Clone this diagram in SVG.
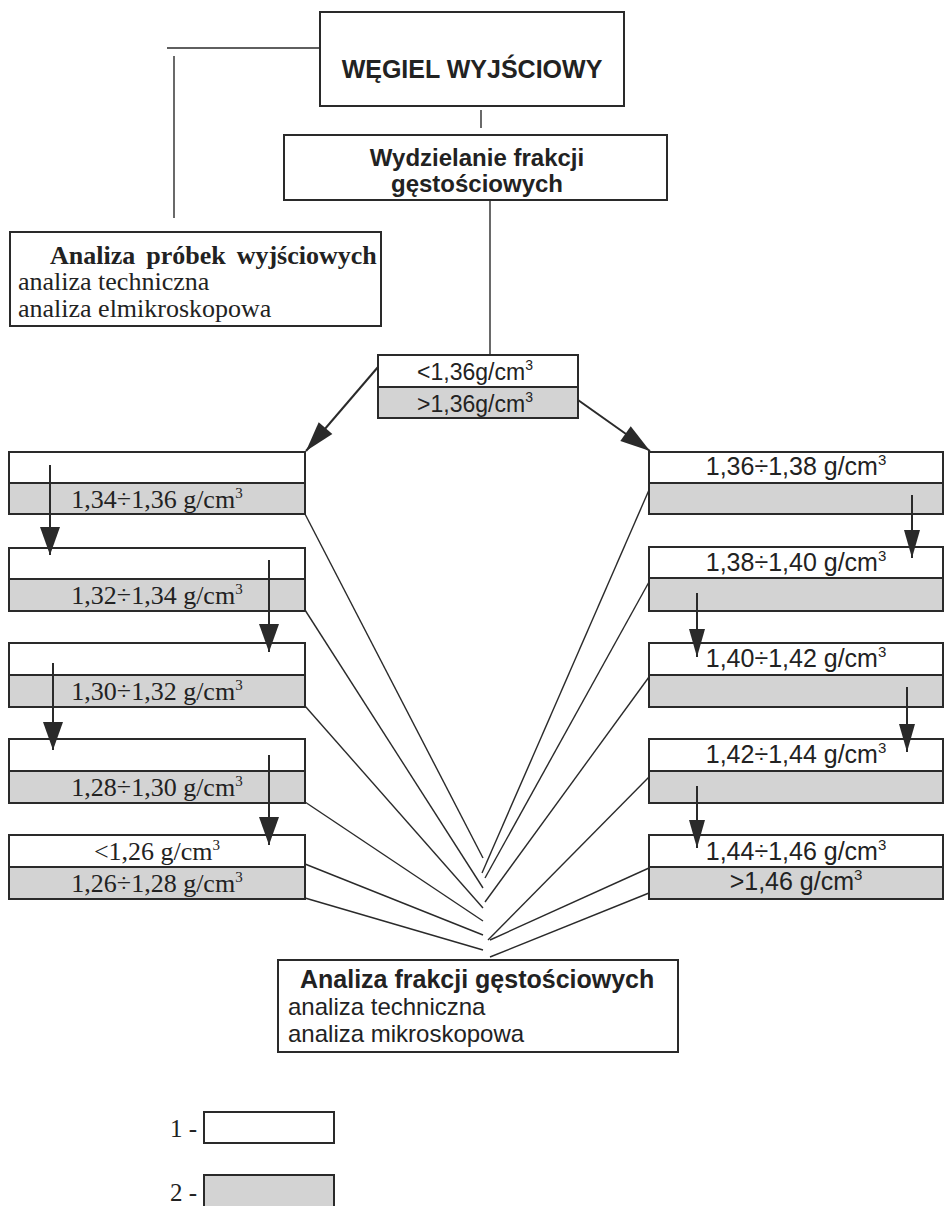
<svg xmlns="http://www.w3.org/2000/svg" width="944" height="1206" viewBox="0 0 944 1206">
<style>
.box{fill:#fff;stroke:#2a2a2a;stroke-width:2}
.sh{fill:#d3d3d3;stroke:#2a2a2a;stroke-width:2}
.ln{fill:none;stroke:#2a2a2a;stroke-width:1.4}
.ar{fill:none;stroke:#2a2a2a;stroke-width:2}
.hb{font-family:"Liberation Sans",Arial,sans-serif;font-weight:bold;fill:#222}
.h{font-family:"Liberation Sans",Arial,sans-serif;fill:#222}
.t{font-family:"Liberation Serif","Times New Roman",serif;fill:#222}
.tb{font-family:"Liberation Serif","Times New Roman",serif;font-weight:bold;fill:#222}
</style>
<defs>
<marker id="mA" markerUnits="userSpaceOnUse" markerWidth="30" markerHeight="22" refX="28" refY="10" orient="auto" overflow="visible"><path d="M0,0 L28,10 L0,20 Z" fill="#2a2a2a"/></marker>
<marker id="mB" markerUnits="userSpaceOnUse" markerWidth="30" markerHeight="18" refX="28" refY="8" orient="auto" overflow="visible"><path d="M0,0 L28,8 L0,16 Z" fill="#2a2a2a"/></marker>
<marker id="mC" markerUnits="userSpaceOnUse" markerWidth="32" markerHeight="20" refX="30" refY="9" orient="auto" overflow="visible"><path d="M0,0 L30,9 L0,18 Z" fill="#2a2a2a"/></marker>
</defs>
<rect width="944" height="1206" fill="#fff"/>

<g id="wegiel">
<rect class="box" x="320" y="12" width="304" height="94"/>
<text class="hb" x="472" y="78" font-size="25" text-anchor="middle">WĘGIEL WYJŚCIOWY</text>
</g>

<g id="wydzielanie">
<rect class="box" x="284" y="135" width="383" height="65"/>
<text class="hb" x="477" y="166" font-size="24" text-anchor="middle">Wydzielanie frakcji</text>
<text class="hb" x="477" y="192" font-size="24" text-anchor="middle">gęstościowych</text>
</g>

<g id="analiza-probek">
<rect class="box" x="10" y="232" width="371" height="94"/>
<text class="tb" x="50" y="264" font-size="26" word-spacing="4.5">Analiza próbek wyjściowych</text>
<text class="t" x="18" y="290" font-size="26">analiza techniczna</text>
<text class="t" x="18" y="317" font-size="26">analiza elmikroskopowa</text>
</g>

<g id="split-136">
<rect class="box" x="378" y="355" width="200" height="32"/>
<rect class="sh" x="378" y="387" width="200" height="31"/>
<text class="h" x="475" y="380" font-size="23" text-anchor="middle">&lt;1,36g/cm<tspan dy="-10" font-size="14">3</tspan></text>
<text class="h" x="475" y="412" font-size="23" text-anchor="middle">&gt;1,36g/cm<tspan dy="-10" font-size="14">3</tspan></text>
</g>

<g id="left-1">
<rect class="box" x="9" y="452" width="296" height="31"/>
<rect class="sh" x="9" y="483" width="296" height="31"/>
<text class="t" x="157" y="508" font-size="26" text-anchor="middle">1,34÷1,36 g/cm<tspan dy="-10" font-size="15">3</tspan></text>
</g>
<g id="left-2">
<rect class="box" x="9" y="548" width="296" height="31"/>
<rect class="sh" x="9" y="579" width="296" height="32"/>
<text class="t" x="157" y="604" font-size="26" text-anchor="middle">1,32÷1,34 g/cm<tspan dy="-10" font-size="15">3</tspan></text>
</g>
<g id="left-3">
<rect class="box" x="9" y="643" width="296" height="32"/>
<rect class="sh" x="9" y="675" width="296" height="32"/>
<text class="t" x="157" y="700" font-size="26" text-anchor="middle">1,30÷1,32 g/cm<tspan dy="-10" font-size="15">3</tspan></text>
</g>
<g id="left-4">
<rect class="box" x="9" y="739" width="296" height="32"/>
<rect class="sh" x="9" y="771" width="296" height="32"/>
<text class="t" x="157" y="796" font-size="26" text-anchor="middle">1,28÷1,30 g/cm<tspan dy="-10" font-size="15">3</tspan></text>
</g>
<g id="left-5">
<rect class="box" x="9" y="835" width="296" height="32"/>
<rect class="sh" x="9" y="867" width="296" height="32"/>
<text class="t" x="157" y="860" font-size="26" text-anchor="middle">&lt;1,26 g/cm<tspan dy="-10" font-size="15">3</tspan></text>
<text class="t" x="157" y="892" font-size="26" text-anchor="middle">1,26÷1,28 g/cm<tspan dy="-10" font-size="15">3</tspan></text>
</g>

<g id="right-1">
<rect class="box" x="649" y="452" width="294" height="31"/>
<rect class="sh" x="649" y="483" width="294" height="31"/>
<text class="h" x="796" y="475" font-size="25" text-anchor="middle">1,36÷1,38 g/cm<tspan dy="-10" font-size="15">3</tspan></text>
</g>
<g id="right-2">
<rect class="box" x="649" y="547" width="294" height="31"/>
<rect class="sh" x="649" y="578" width="294" height="33"/>
<text class="h" x="796" y="571" font-size="25" text-anchor="middle">1,38÷1,40 g/cm<tspan dy="-10" font-size="15">3</tspan></text>
</g>
<g id="right-3">
<rect class="box" x="649" y="643" width="294" height="32"/>
<rect class="sh" x="649" y="675" width="294" height="32"/>
<text class="h" x="796" y="667" font-size="25" text-anchor="middle">1,40÷1,42 g/cm<tspan dy="-10" font-size="15">3</tspan></text>
</g>
<g id="right-4">
<rect class="box" x="649" y="739" width="294" height="32"/>
<rect class="sh" x="649" y="771" width="294" height="32"/>
<text class="h" x="796" y="763" font-size="25" text-anchor="middle">1,42÷1,44 g/cm<tspan dy="-10" font-size="15">3</tspan></text>
</g>
<g id="right-5">
<rect class="box" x="649" y="835" width="294" height="32"/>
<rect class="sh" x="649" y="867" width="294" height="32"/>
<text class="h" x="796" y="860" font-size="25" text-anchor="middle">1,44÷1,46 g/cm<tspan dy="-10" font-size="15">3</tspan></text>
<text class="h" x="796" y="890" font-size="25" text-anchor="middle">&gt;1,46 g/cm<tspan dy="-10" font-size="15">3</tspan></text>
</g>

<g id="analiza-frakcji">
<rect class="box" x="278" y="960" width="400" height="92"/>
<text class="hb" x="300" y="988" font-size="25">Analiza frakcji gęstościowych</text>
<text class="h" x="288" y="1015" font-size="24">analiza techniczna</text>
<text class="h" x="288" y="1042" font-size="24">analiza mikroskopowa</text>
</g>

<g id="legend-1">
<text class="t" x="170" y="1137" font-size="25">1 -</text>
<rect class="box" x="204" y="1112" width="130" height="31"/>
</g>
<g id="legend-2">
<text class="t" x="170" y="1201" font-size="25">2 -</text>
<rect class="sh" x="204" y="1175" width="130" height="40"/>
</g>

<g id="connectors">
<line class="ln" x1="167" y1="48" x2="320" y2="48"/>
<line class="ln" x1="174" y1="56" x2="174" y2="218"/>
<line class="ln" x1="481" y1="110" x2="481" y2="128"/>
<line class="ln" x1="490" y1="200" x2="490" y2="355"/>
<line class="ar" x1="378" y1="367" x2="306" y2="451" marker-end="url(#mC)"/>
<line class="ar" x1="578" y1="400" x2="650" y2="451" marker-end="url(#mC)"/>
<line class="ar" x1="50" y1="465" x2="50" y2="555" marker-end="url(#mA)"/>
<line class="ar" x1="269" y1="560" x2="269" y2="652" marker-end="url(#mA)"/>
<line class="ar" x1="53" y1="663" x2="53" y2="750" marker-end="url(#mA)"/>
<line class="ar" x1="269" y1="755" x2="269" y2="845" marker-end="url(#mA)"/>
<line class="ar" x1="912" y1="495" x2="912" y2="558" marker-end="url(#mB)"/>
<line class="ar" x1="697" y1="593" x2="697" y2="657" marker-end="url(#mB)"/>
<line class="ar" x1="907" y1="687" x2="907" y2="752" marker-end="url(#mB)"/>
<line class="ar" x1="697" y1="786" x2="697" y2="848" marker-end="url(#mB)"/>
<line class="ln" x1="305" y1="514" x2="483" y2="858"/>
<line class="ln" x1="305" y1="610" x2="483" y2="888"/>
<line class="ln" x1="305" y1="706" x2="483" y2="908"/>
<line class="ln" x1="305" y1="802" x2="483" y2="921"/>
<line class="ln" x1="305" y1="864" x2="483" y2="935"/>
<line class="ln" x1="305" y1="898" x2="483" y2="950"/>
<line class="ln" x1="649" y1="490" x2="482" y2="873"/>
<line class="ln" x1="649" y1="582" x2="485" y2="878"/>
<line class="ln" x1="649" y1="677" x2="485" y2="902"/>
<line class="ln" x1="649" y1="777" x2="488" y2="940"/>
<line class="ln" x1="649" y1="868" x2="490" y2="940"/>
<line class="ln" x1="649" y1="893" x2="490" y2="957"/>
</g>
</svg>
